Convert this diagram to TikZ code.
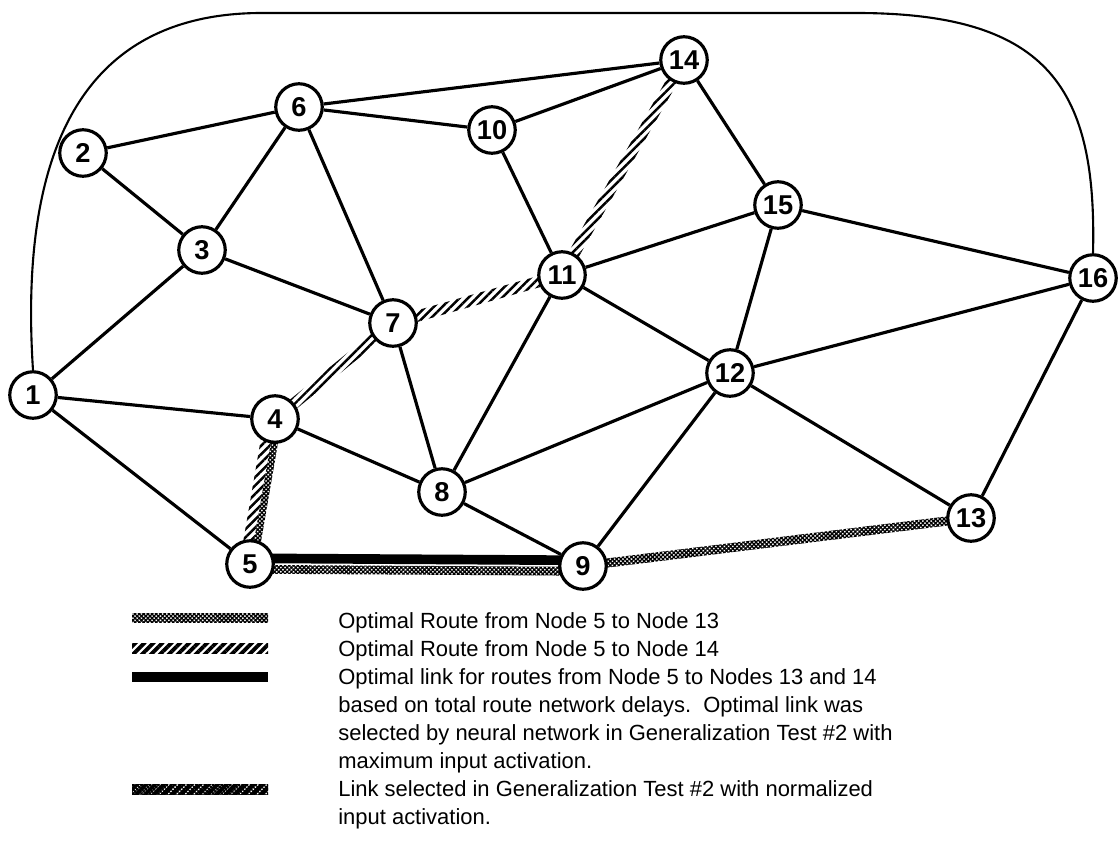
\documentclass[tikz,border=0pt]{standalone}
\usepackage{fontspec}
\setmainfont{Liberation Sans}
\usetikzlibrary{calc,patterns.meta,backgrounds}

% band along a link: style, from, to, offset 1, offset 2
\newcommand{\routeband}[5]{%
  \fill[#1] ($(#2.center)!#4!90:(#3.center)$) -- ($(#3.center)!#4!-90:(#2.center)$)
    -- ($(#3.center)!#5!-90:(#2.center)$) -- ($(#2.center)!#5!90:(#3.center)$) -- cycle;}

\begin{document}
\begin{tikzpicture}[x=0.02cm,y=-0.02cm,
    nd/.style={circle,draw,fill=white,line width=1.8pt,inner sep=0pt,
      minimum size=0.93cm,font=\bfseries\fontsize{15.5}{16}\selectfont},
    lnk/.style={line width=1.8pt},
    outer/.style={line width=1.2pt},
    crossband/.style={pattern={Hatch[angle=45,distance=1.7pt,line width=0.75pt]}},
    hatchband/.style={pattern={Lines[angle=45,distance=3.4pt,line width=1.4pt]}},
    selband/.style={pattern={Lines[angle=45,distance=3.6pt,line width=2.2pt]}},
    optband/.style={fill=black},
    legtext/.style={anchor=north west,inner sep=0pt,align=left,
      font=\fontsize{12.5}{15.9}\selectfont}]
\useasboundingbox (0,0) rectangle (1118,859);
% network nodes
\node[nd] (n1) at (33,395) {1};
\node[nd] (n2) at (83,153) {2};
\node[nd] (n3) at (202,250) {3};
\node[nd] (n4) at (275,419) {4};
\node[nd] (n5) at (250,564) {5};
\node[nd] (n6) at (299,107) {6};
\node[nd] (n7) at (393,323) {7};
\node[nd] (n8) at (442,492) {8};
\node[nd] (n9) at (583,566) {9};
\node[nd] (n10) at (492,130) {10};
\node[nd] (n11) at (562,275) {11};
\node[nd] (n12) at (730,373) {12};
\node[nd] (n13) at (971,518) {13};
\node[nd] (n14) at (684,60) {14};
\node[nd] (n15) at (778,205) {15};
\node[nd] (n16) at (1093,278) {16};
% links
\foreach \a/\b in {1/3,1/4,1/5,2/3,2/6,3/6,3/7,6/7,6/10,6/14,10/14,10/11,
    14/15,7/8,4/8,8/9,8/11,8/12,11/12,11/15,12/15,12/16,12/13,9/12,15/16,13/16}
  \draw[lnk] (n\a) -- (n\b);
\draw[outer] (n1.north) .. controls (20,170) and (70,14) .. (260,13) -- (860,13)
  .. controls (1050,14) and (1097,90) .. (n16.north);
% routes
\begin{scope}[on background layer]
\routeband{optband}{n5}{n9}{0.5pt}{6pt}
\routeband{crossband}{n5}{n9}{-0.5pt}{-5.5pt}
\routeband{crossband}{n9}{n13}{2.6pt}{-2.6pt}
\routeband{hatchband}{n4}{n5}{0pt}{-6pt}
\routeband{crossband}{n4}{n5}{0pt}{4pt}
\routeband{hatchband}{n4}{n7}{3.2pt}{-3.2pt}
\routeband{hatchband}{n7}{n11}{3.2pt}{-3.2pt}
\routeband{hatchband}{n11}{n14}{3.2pt}{-3.2pt}
\end{scope}
% legend
\fill[crossband] (132,613) rectangle (268,622);
\fill[selband] (132,643) rectangle (268,653);
\fill[optband] (132,672) rectangle (268,682);
\fill[crossband] (132,784) rectangle (268,794);
\fill[selband] (132,784) rectangle (268,794);
\node[legtext] (t1) at (338,612) {Optimal Route from Node 5 to Node 13};
\node[legtext] (t2) at (338,640) {Optimal Route from Node 5 to Node 14};
\node[legtext] (t3) at (338,668) {Optimal link for routes from Node 5 to Nodes 13 and 14\\
  based on total route network delays.\ \ Optimal link was\\
  selected by neural network in Generalization Test \#2 with\\
  maximum input activation.};
\node[legtext] (t4) at (338,780) {Link selected in Generalization Test \#2 with normalized\\
  input activation.};
\end{tikzpicture}
\end{document}
